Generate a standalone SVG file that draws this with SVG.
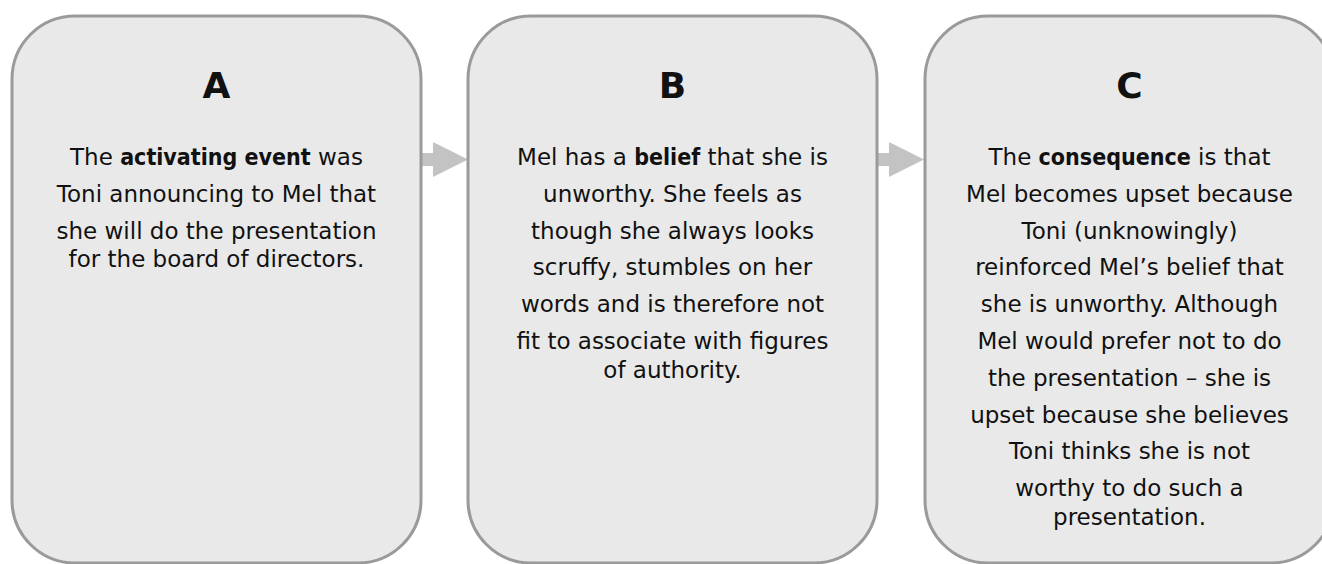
<svg xmlns="http://www.w3.org/2000/svg" width="1322" height="564" viewBox="0 0 1322 564">
<style>
.box{fill:#e9e9e9;stroke:#9a9a9a;stroke-width:3}
.arrow{fill:#c3c3c3}
text{font-family:"DejaVu Sans","Liberation Sans",sans-serif;fill:#111;text-anchor:middle}
.hd{font-size:36px;font-weight:bold}
.tx{font-size:23px}
.b{font-family:"DejaVu Sans Condensed","DejaVu Sans",sans-serif;font-stretch:condensed;font-weight:bold}
</style>
<g id="connectors">
<polygon class="arrow" points="421,153 433,153 433,142 468,159.5 433,177 433,166 421,166"/>
<polygon class="arrow" points="877,153 889,153 889,142 924,159.5 889,177 889,166 877,166"/>
</g>
<g id="nodeA">
<rect class="box" x="12" y="16" width="409" height="547" rx="63"/>
<text class="hd" x="216.5" y="98">A</text>
<text class="tx" x="216.5" y="165">The <tspan class="b">activating event</tspan> was</text>
<text class="tx" x="216.5" y="201.8">Toni announcing to Mel that</text>
<text class="tx" x="216.5" y="238.6">she will do the presentation</text>
<text class="tx" x="216.5" y="267">for the board of directors.</text>
</g>
<g id="nodeB">
<rect class="box" x="468" y="16" width="409" height="547" rx="63"/>
<text class="hd" x="672.5" y="98">B</text>
<text class="tx" x="672.5" y="165">Mel has a <tspan class="b">belief</tspan> that she is</text>
<text class="tx" x="672.5" y="201.8">unworthy. She feels as</text>
<text class="tx" x="672.5" y="238.6">though she always looks</text>
<text class="tx" x="672.5" y="275.4">scruffy, stumbles on her</text>
<text class="tx" x="672.5" y="312.2">words and is therefore not</text>
<text class="tx" x="672.5" y="349">fit to associate with figures</text>
<text class="tx" x="672.5" y="377.5">of authority.</text>
</g>
<g id="nodeC">
<rect class="box" x="925" y="16" width="409" height="547" rx="63"/>
<text class="hd" x="1129.5" y="98">C</text>
<text class="tx" x="1129.5" y="165">The <tspan class="b">consequence</tspan> is that</text>
<text class="tx" x="1129.5" y="201.8">Mel becomes upset because</text>
<text class="tx" x="1129.5" y="238.6">Toni (unknowingly)</text>
<text class="tx" x="1129.5" y="275.4">reinforced Mel’s belief that</text>
<text class="tx" x="1129.5" y="312.2">she is unworthy. Although</text>
<text class="tx" x="1129.5" y="349">Mel would prefer not to do</text>
<text class="tx" x="1129.5" y="385.8">the presentation – she is</text>
<text class="tx" x="1129.5" y="422.6">upset because she believes</text>
<text class="tx" x="1129.5" y="459.4">Toni thinks she is not</text>
<text class="tx" x="1129.5" y="496.2">worthy to do such a</text>
<text class="tx" x="1129.5" y="524.7">presentation.</text>
</g>
</svg>
